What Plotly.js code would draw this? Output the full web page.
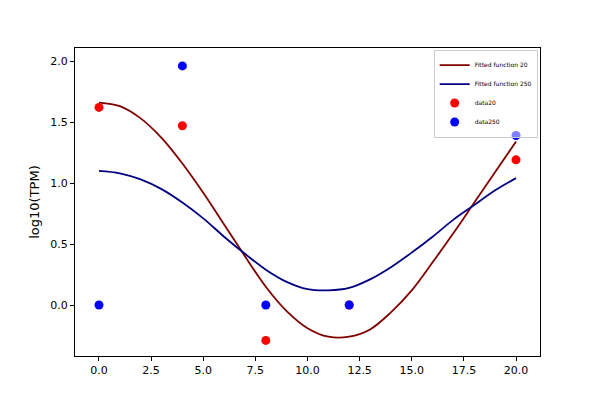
<!DOCTYPE html>
<html><head><script src="https://cdn.plot.ly/plotly-3.0.1.min.js"></script></head>
<body style="margin:0"><div id="myDiv" style="width:600px;height:400px"></div>
<script>
var fitX = [0,1,2,3,4,5,6,7,8,9,10,11,12,13,14,15,16,17,18,19,20];
var fit20 = [1.66,1.63,1.53,1.37,1.16,0.92,0.66,0.40,0.15,-0.05,-0.19,-0.26,-0.26,-0.20,-0.06,0.12,0.35,0.59,0.84,1.09,1.34];
var fit250 = [1.10,1.08,1.03,0.95,0.84,0.71,0.56,0.42,0.29,0.19,0.13,0.12,0.14,0.21,0.31,0.43,0.56,0.70,0.82,0.94,1.04];
var dataX = [0,4,8,12,20];
var data20 = [1.62,1.47,-0.29,0,1.19];
var data250 = [0,1.96,0,0,1.39];

var data = [
  {x:fitX, y:fit20, mode:'lines', name:'Fitted function 20', line:{color:'#800000', width:1.8, shape:'spline'}},
  {x:fitX, y:fit250, mode:'lines', name:'Fitted function 250', line:{color:'#000080', width:1.8, shape:'spline'}},
  {x:dataX, y:data20, mode:'markers', name:'data20', marker:{color:'red', size:9}},
  {x:dataX, y:data250, mode:'markers', name:'data250', marker:{color:'blue', size:9}}
];
var ax = {showgrid:false, zeroline:false, showline:true, mirror:true, linecolor:'black', linewidth:1,
          ticks:'outside', ticklen:4, tickcolor:'black', tickfont:{size:11}};
var layout = {
  width:600, height:400, margin:{l:75, r:60, t:48, b:44},
  paper_bgcolor:'white', plot_bgcolor:'white',
  font:{family:'DejaVu Sans', color:'black', size:11},
  showlegend:true,
  legend:{x:0.995, y:0.995, xanchor:'right', yanchor:'top', font:{size:6}, itemwidth:30,
          bordercolor:'#ccc', borderwidth:1, bgcolor:'rgba(255,255,255,0.5)', tracegroupgap:0},
  xaxis:Object.assign({}, ax, {range:[-1.15,21.15], tickvals:[0,2.5,5,7.5,10,12.5,15,17.5,20],
          ticktext:['0.0','2.5','5.0','7.5','10.0','12.5','15.0','17.5','20.0']}),
  yaxis:Object.assign({}, ax, {range:[-0.418,2.107], tickvals:[0,0.5,1,1.5,2],
          ticktext:['0.0','0.5','1.0','1.5','2.0'], title:{text:'log10(TPM)', font:{size:13}}})
};
Plotly.newPlot('myDiv', data, layout, {displayModeBar:false});
</script></body></html>
